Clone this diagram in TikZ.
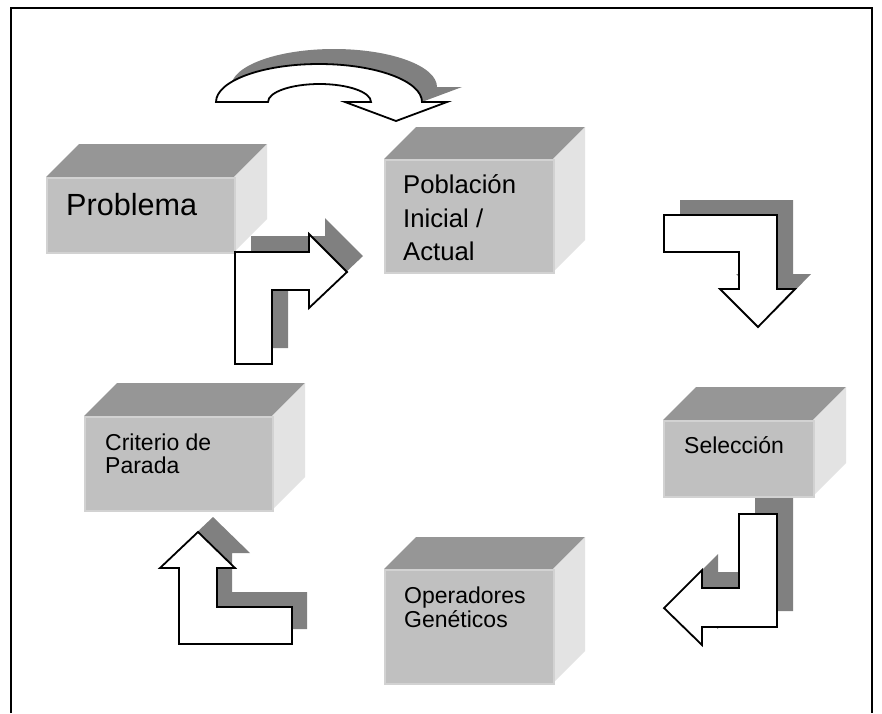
\documentclass[tikz,border=0pt]{standalone}
\usepackage{fontspec}
\setmainfont{Liberation Sans}
\definecolor{frontc}{HTML}{C0C0C0}
\definecolor{topc}{HTML}{969696}
\definecolor{sidec}{HTML}{E3E3E3}
\definecolor{edgec}{HTML}{D2D2D2}
\definecolor{shadowc}{HTML}{808080}
% #1 name, #2 x1, #3 y1, #4 x2, #5 y2, #6 depth
\newcommand\cuboid[6]{%
  \fill[topc] (#2,#3) -- (#2+#6,#3-#6) -- (#4+#6,#3-#6) -- (#4,#3) -- cycle;
  \fill[sidec] (#4,#3) -- (#4+#6,#3-#6) -- (#4+#6,#5-#6) -- (#4,#5) -- cycle;
  \node[frontbox, minimum width={(#4-#2)*1pt}, minimum height={(#5-#3)*1pt}] (#1) at (#2,#3) {};
}
% #1 shadow shift, #2 path
\newcommand\blockarrow[2]{%
  \fill[shadowc, shift={#1}] #2;
  \draw[barrow] #2;
}
\begin{document}
\begin{tikzpicture}[x=1pt, y=-1pt,
  frontbox/.style={draw=edgec, line width=1.5pt, fill=frontc, inner sep=0pt, anchor=north west},
  barrow/.style={draw=black, line width=1.8pt, fill=white, line join=miter},
  lbl/.style={inner sep=0pt, anchor=base west, text=black},
  big/.style={font=\fontsize{30.6}{34}\selectfont},
  mid/.style={font=\fontsize{25.7}{30}\selectfont},
  small/.style={font=\fontsize{23}{26}\selectfont}]
\useasboundingbox (0,0) rectangle (882,713);
\fill[white] (0,0) rectangle (882,713);
% frame
\draw[line width=2pt, black] (11,713) -- (11,8) -- (872,8) -- (872,713);

% boxes
\cuboid{prob}{46}{177}{234}{252}{33}
\cuboid{pobl}{384}{159}{553}{272}{32}
\cuboid{crit}{84}{416}{272}{510}{33}
\cuboid{sele}{663}{420}{813}{496}{33}
\cuboid{oper}{384}{569}{553}{683}{32}

% labels
\node[lbl, big] (probt) at (66,215) {Problema};
\node[lbl, mid] (poblt1) at (403,193) {Población};
\node[lbl, mid] (poblt2) at (403,227) {Inicial /};
\node[lbl, mid] (poblt3) at (403,260) {Actual};
\node[lbl, small] (critt1) at (105,450) {Criterio de};
\node[lbl, small] (critt2) at (105,473) {Parada};
\node[lbl, small] (selet) at (684,453) {Selección};
\node[lbl, small] (opert1) at (404,603) {Operadores};
\node[lbl, small] (opert2) at (404,627) {Genéticos};

% block arrows
\blockarrow{(15,-15)}{(216,102) arc[start angle=180, end angle=360, x radius=103, y radius=38] -- (447,102) -- (396,121) -- (345,102) -- (371,102) arc[start angle=360, end angle=180, x radius=51.5, y radius=18] -- cycle}
\blockarrow{(16,-16)}{(235,364) -- (235,252) -- (309,252) -- (309,234) -- (347,272) -- (309,308) -- (309,290) -- (272,290) -- (272,364) -- cycle}
\blockarrow{(16,-15)}{(664,215) -- (777,215) -- (777,289) -- (795,289) -- (758,327) -- (720,289) -- (739,289) -- (739,252) -- (664,252) -- cycle}
\blockarrow{(16,-16)}{(739,514) -- (777,514) -- (777,627) -- (702,627) -- (702,645) -- (664,608) -- (702,570) -- (702,588) -- (739,588) -- cycle}
\blockarrow{(15,-15)}{(179,644) -- (179,568) -- (160,568) -- (198,532) -- (235,568) -- (217,568) -- (217,607) -- (292,607) -- (292,644) -- cycle}
\end{tikzpicture}
\end{document}
